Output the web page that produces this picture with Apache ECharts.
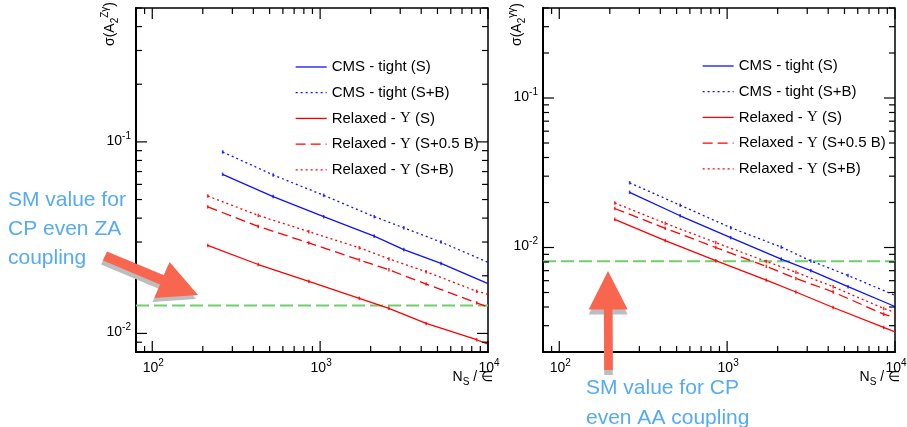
<!DOCTYPE html>
<html><head><meta charset="utf-8">
<script src="https://cdn.jsdelivr.net/npm/echarts@6/dist/echarts.min.js"></script>
<style>html,body{margin:0;padding:0;background:#fff}#c{width:907px;height:427px}</style>
</head><body><div id="c"></div>
<script>
// ---------------- data ----------------
const seriesNames = ['CMS - tight (S)', 'CMS - tight (S+B)', 'Relaxed - Υ (S)', 'Relaxed - Υ (S+0.5 B)', 'Relaxed - Υ (S+B)'];
const xRange = [80, 10000];
const xBlue = [262.5, 525, 1050, 2100, 3150, 5250, 10000];
const xRed = [214, 428, 856, 1712, 2568, 4280, 8560, 10000];
// left panel: sigma(A2^Zgamma)
const zaTightS  = [0.0677, 0.0518, 0.0407, 0.0322, 0.0274, 0.0232, 0.0182];
const zaTightSB = [0.0886, 0.0672, 0.0526, 0.0407, 0.0356, 0.0300, 0.0235];
const zaRelS    = [0.0288, 0.0229, 0.0187, 0.01525, 0.01352, 0.01128, 0.00927, 0.0088];
const zaRelSHB  = [0.0458, 0.0362, 0.0297, 0.0242, 0.0215, 0.0181, 0.01443, 0.01374];
const zaRelSB   = [0.0522, 0.0413, 0.0340, 0.0280, 0.0245, 0.0210, 0.0166, 0.0160];
const zaSM = 0.0140;
// right panel: sigma(A2^gammagamma)
const aaTightS  = [0.0234, 0.0163, 0.01164, 0.00837, 0.00701, 0.00547, 0.00403];
const aaTightSB = [0.0271, 0.0192, 0.01357, 0.01007, 0.00813, 0.0065, 0.00479];
const aaRelS    = [0.01542, 0.01112, 0.00816, 0.00605, 0.00504, 0.00397, 0.00292, 0.00273];
const aaRelSHB  = [0.01824, 0.01344, 0.0100, 0.00748, 0.00621, 0.00504, 0.00358, 0.00341];
const aaRelSB   = [0.01986, 0.01452, 0.01079, 0.00807, 0.00683, 0.00547, 0.00391, 0.00368];
const aaSM = 0.0081;
const xMajorTicks = [100, 1000, 10000];
const yMajorTicks = [0.01, 0.1];
const yRangeZA = [0.008, 0.5];
const yRangeAA = [0.002, 0.4];
const annotZA = ['SM value for', 'CP even ZA', 'coupling'];
const annotAA = ['SM value for CP', 'even AA coupling'];

// ---------------- chart ----------------
const FONT = '"Liberation Sans", Arial, Helvetica, sans-serif';
const SERIF = '"Liberation Serif", "DejaVu Serif", serif';
const BLUE = '#1010ff', RED = '#ff0000', GREEN = '#6fd06a';
const styles = [
  {color: BLUE, type: 'solid'},
  {color: BLUE, type: [2, 3]},
  {color: RED, type: 'solid'},
  {color: RED, type: [10, 5]},
  {color: RED, type: [2, 3]}
];
const xs = [xBlue, xBlue, xRed, xRed, xRed];
const panels = [
  {vals: [zaTightS, zaTightSB, zaRelS, zaRelSHB, zaRelSB], sm: zaSM, yr: yRangeZA, ytitle: '{b|σ(A}{sub|2}{sup|Zγ}{b|)}'},
  {vals: [aaTightS, aaTightSB, aaRelS, aaRelSHB, aaRelSB], sm: aaSM, yr: yRangeAA, ytitle: '{b|σ(A}{sub|2}{sup|γγ}{b|)}'}
];
const grids = [
  {left: 136, top: 8, width: 352, height: 344, show: true, borderColor: '#000', borderWidth: 1.5},
  {left: 543, top: 8, width: 352, height: 344, show: true, borderColor: '#000', borderWidth: 1.5}
];

const series = [];
panels.forEach((p, pi) => {
  series.push({type: 'line', name: 'SM', xAxisIndex: pi, yAxisIndex: pi,
    data: [[xRange[0], p.sm], [xRange[1], p.sm]], symbol: 'none', silent: true, z: 1,
    lineStyle: {color: GREEN, width: 2, type: [13, 5]}});
  p.vals.forEach((v, si) => {
    const d = v.map((y, i) => [xs[si][i], y]);
    series.push({type: 'line', name: seriesNames[si], xAxisIndex: pi, yAxisIndex: pi, data: d,
      symbol: 'none', silent: true, clip: true, z: 3,
      lineStyle: {color: styles[si].color, width: 1.3, type: styles[si].type},
      itemStyle: {color: styles[si].color}});
    series.push({type: 'scatter', name: seriesNames[si] + ' pts', xAxisIndex: pi, yAxisIndex: pi,
      data: d.slice(0, -1), symbol: 'rect', symbolSize: [1.6, 3.5], silent: true, z: 4,
      itemStyle: {color: styles[si].color}});
  });
});

function axisCommon(extra) {
  return Object.assign({type: 'log', logBase: 10,
    axisLine: {show: true, onZero: false, lineStyle: {color: '#000', width: 2}},
    axisTick: {show: false}, axisLabel: {show: false}, splitLine: {show: false}}, extra);
}

const legendText = {fontFamily: FONT, fontSize: 15, color: '#000', lineHeight: 16,
  rich: {g: {fontFamily: SERIF, fontSize: 15, lineHeight: 16, color: '#000'}}};
function legendCfg(left, top) {
  return {data: seriesNames, orient: 'vertical', left: left, top: top, itemWidth: 31, itemHeight: 16,
    itemGap: 9.7, selectedMode: false, padding: 0, textStyle: legendText,
    itemStyle: {color: 'rgba(0,0,0,0)', opacity: 0, borderWidth: 0},
    lineStyle: {width: 1.3},
    formatter: n => n.replace('Υ', '{g|Υ}')};
}

const chart = echarts.init(document.getElementById('c'));
chart.setOption({
  animation: false,
  backgroundColor: '#fff',
  grid: grids,
  xAxis: [axisCommon({gridIndex: 0, min: xRange[0], max: xRange[1]}), axisCommon({gridIndex: 1, min: xRange[0], max: xRange[1]})],
  yAxis: [axisCommon({gridIndex: 0, min: yRangeZA[0], max: yRangeZA[1]}), axisCommon({gridIndex: 1, min: yRangeAA[0], max: yRangeAA[1]})],
  legend: [legendCfg(295, 59), legendCfg(702, 58)],
  series: series
});

// ---------------- axis decorations (ticks, labels, titles) ----------------
const g = [];
const tickStyle = {stroke: '#000', lineWidth: 1.2};
function seg(x1, y1, x2, y2) {
  return {type: 'line', silent: true, z: 50, shape: {x1: x1, y1: y1, x2: x2, y2: y2}, style: tickStyle};
}
const labelRich = {
  b: {fontFamily: FONT, fontSize: 14, lineHeight: 20, fill: '#000', color: '#000'},
  s: {fontFamily: FONT, fontSize: 10, lineHeight: 8, verticalAlign: 'top', fill: '#000', color: '#000'}
};
const titleRich = {
  b: {fontFamily: FONT, fontSize: 14, lineHeight: 20, fill: '#000', color: '#000'},
  sub: {fontFamily: FONT, fontSize: 10, lineHeight: 10, verticalAlign: 'bottom', fill: '#000', color: '#000'},
  sup: {fontFamily: FONT, fontSize: 10, lineHeight: 9, verticalAlign: 'top', fill: '#000', color: '#000'}
};
function txt(x, y, text, align, valign, rich, rotation) {
  return {type: 'text', silent: true, z: 60, x: x, y: y, rotation: rotation || 0,
    style: {text: text, x: 0, y: 0, align: align, verticalAlign: valign, textAlign: align, textVerticalAlign: valign,
      font: '14px ' + FONT, fill: '#000', rich: rich}};
}
panels.forEach((p, pi) => {
  const gr = grids[pi];
  const L = gr.left, R = gr.left + gr.width, T = gr.top, B = gr.top + gr.height;
  for (let d = 1; d <= 4; d++) for (let k = 1; k <= 9; k++) {
    const v = k * Math.pow(10, d);
    if (v < xRange[0] || v > xRange[1]) continue;
    const X = chart.convertToPixel({gridIndex: pi}, [v, p.yr[0]])[0];
    const len = k === 1 ? 11 : 6;
    g.push(seg(X, B, X, B - len), seg(X, T, X, T + len));
  }
  for (let d = -4; d <= 0; d++) for (let k = 1; k <= 9; k++) {
    const v = k * Math.pow(10, d);
    if (v < p.yr[0] || v > p.yr[1]) continue;
    const Y = chart.convertToPixel({gridIndex: pi}, [xRange[0], v])[1];
    const len = k === 1 ? 11 : 6;
    g.push(seg(L, Y, L + len, Y), seg(R, Y, R - len, Y));
  }
  xMajorTicks.forEach(v => {
    const X = chart.convertToPixel({gridIndex: pi}, [v, p.yr[0]])[0];
    g.push(txt(X + 1, B + 6, '{b|10}{s|' + Math.round(Math.log10(v)) + '}', 'center', 'top', labelRich));
  });
  yMajorTicks.forEach(v => {
    const Y = chart.convertToPixel({gridIndex: pi}, [xRange[0], v])[1];
    g.push(txt(L - 5, Y - 1, '{b|10}{s|' + Math.round(Math.log10(v)) + '}', 'right', 'middle', labelRich));
  });
  g.push(txt(L - 26, T + 38, p.ytitle, 'left', 'middle', titleRich, Math.PI / 2));
  g.push(txt(R + 5, B + 25, '{b|N}{sub|S}{b| / ∈}', 'right', 'middle', titleRich));
});

// ---------------- annotations ----------------
const ANNOT = '#55aaf5', ARROW = '#f96650', SHADOW = '#bdbdbd';
g.push({type: 'text', silent: true, z: 70, x: 8, y: 186,
  style: {text: annotZA.join('\n'), font: '21px ' + FONT, fill: ANNOT, lineHeight: 29, align: 'left', verticalAlign: 'top', textAlign: 'left', textVerticalAlign: 'top'}});
g.push({type: 'text', silent: true, z: 70, x: 586, y: 373,
  style: {text: annotAA.join('\n'), font: '21px ' + FONT, fill: ANNOT, lineHeight: 30, align: 'left', verticalAlign: 'top', textAlign: 'left', textVerticalAlign: 'top'}});

function arrowPts(S, Tp, shaftHalf, headLen, headHalf) {
  const dx = Tp[0] - S[0], dy = Tp[1] - S[1], l = Math.hypot(dx, dy);
  const u = [dx / l, dy / l], n = [-u[1], u[0]];
  const Bm = [Tp[0] - u[0] * headLen, Tp[1] - u[1] * headLen];
  const P = (b, s) => [b[0] + n[0] * s, b[1] + n[1] * s];
  return [P(S, shaftHalf), P(Bm, shaftHalf), P(Bm, headHalf), Tp, P(Bm, -headHalf), P(Bm, -shaftHalf), P(S, -shaftHalf)];
}
function arrow(S, Tp, sh, hl, hh, off) {
  const pts = arrowPts(S, Tp, sh, hl, hh);
  g.push({type: 'polygon', silent: true, z: 68, shape: {points: pts.map(q => [q[0] + off[0], q[1] + off[1]])}, style: {fill: SHADOW}});
  g.push({type: 'polygon', silent: true, z: 69, shape: {points: pts}, style: {fill: ARROW}});
}
arrow([105, 256], [198, 295], 5, 39, 19.5, [-2, 4]);
arrow([608.5, 370], [608, 271], 4.3, 38.5, 19.5, [0, 5]);

chart.setOption({graphic: g});
</script>
</body></html>
